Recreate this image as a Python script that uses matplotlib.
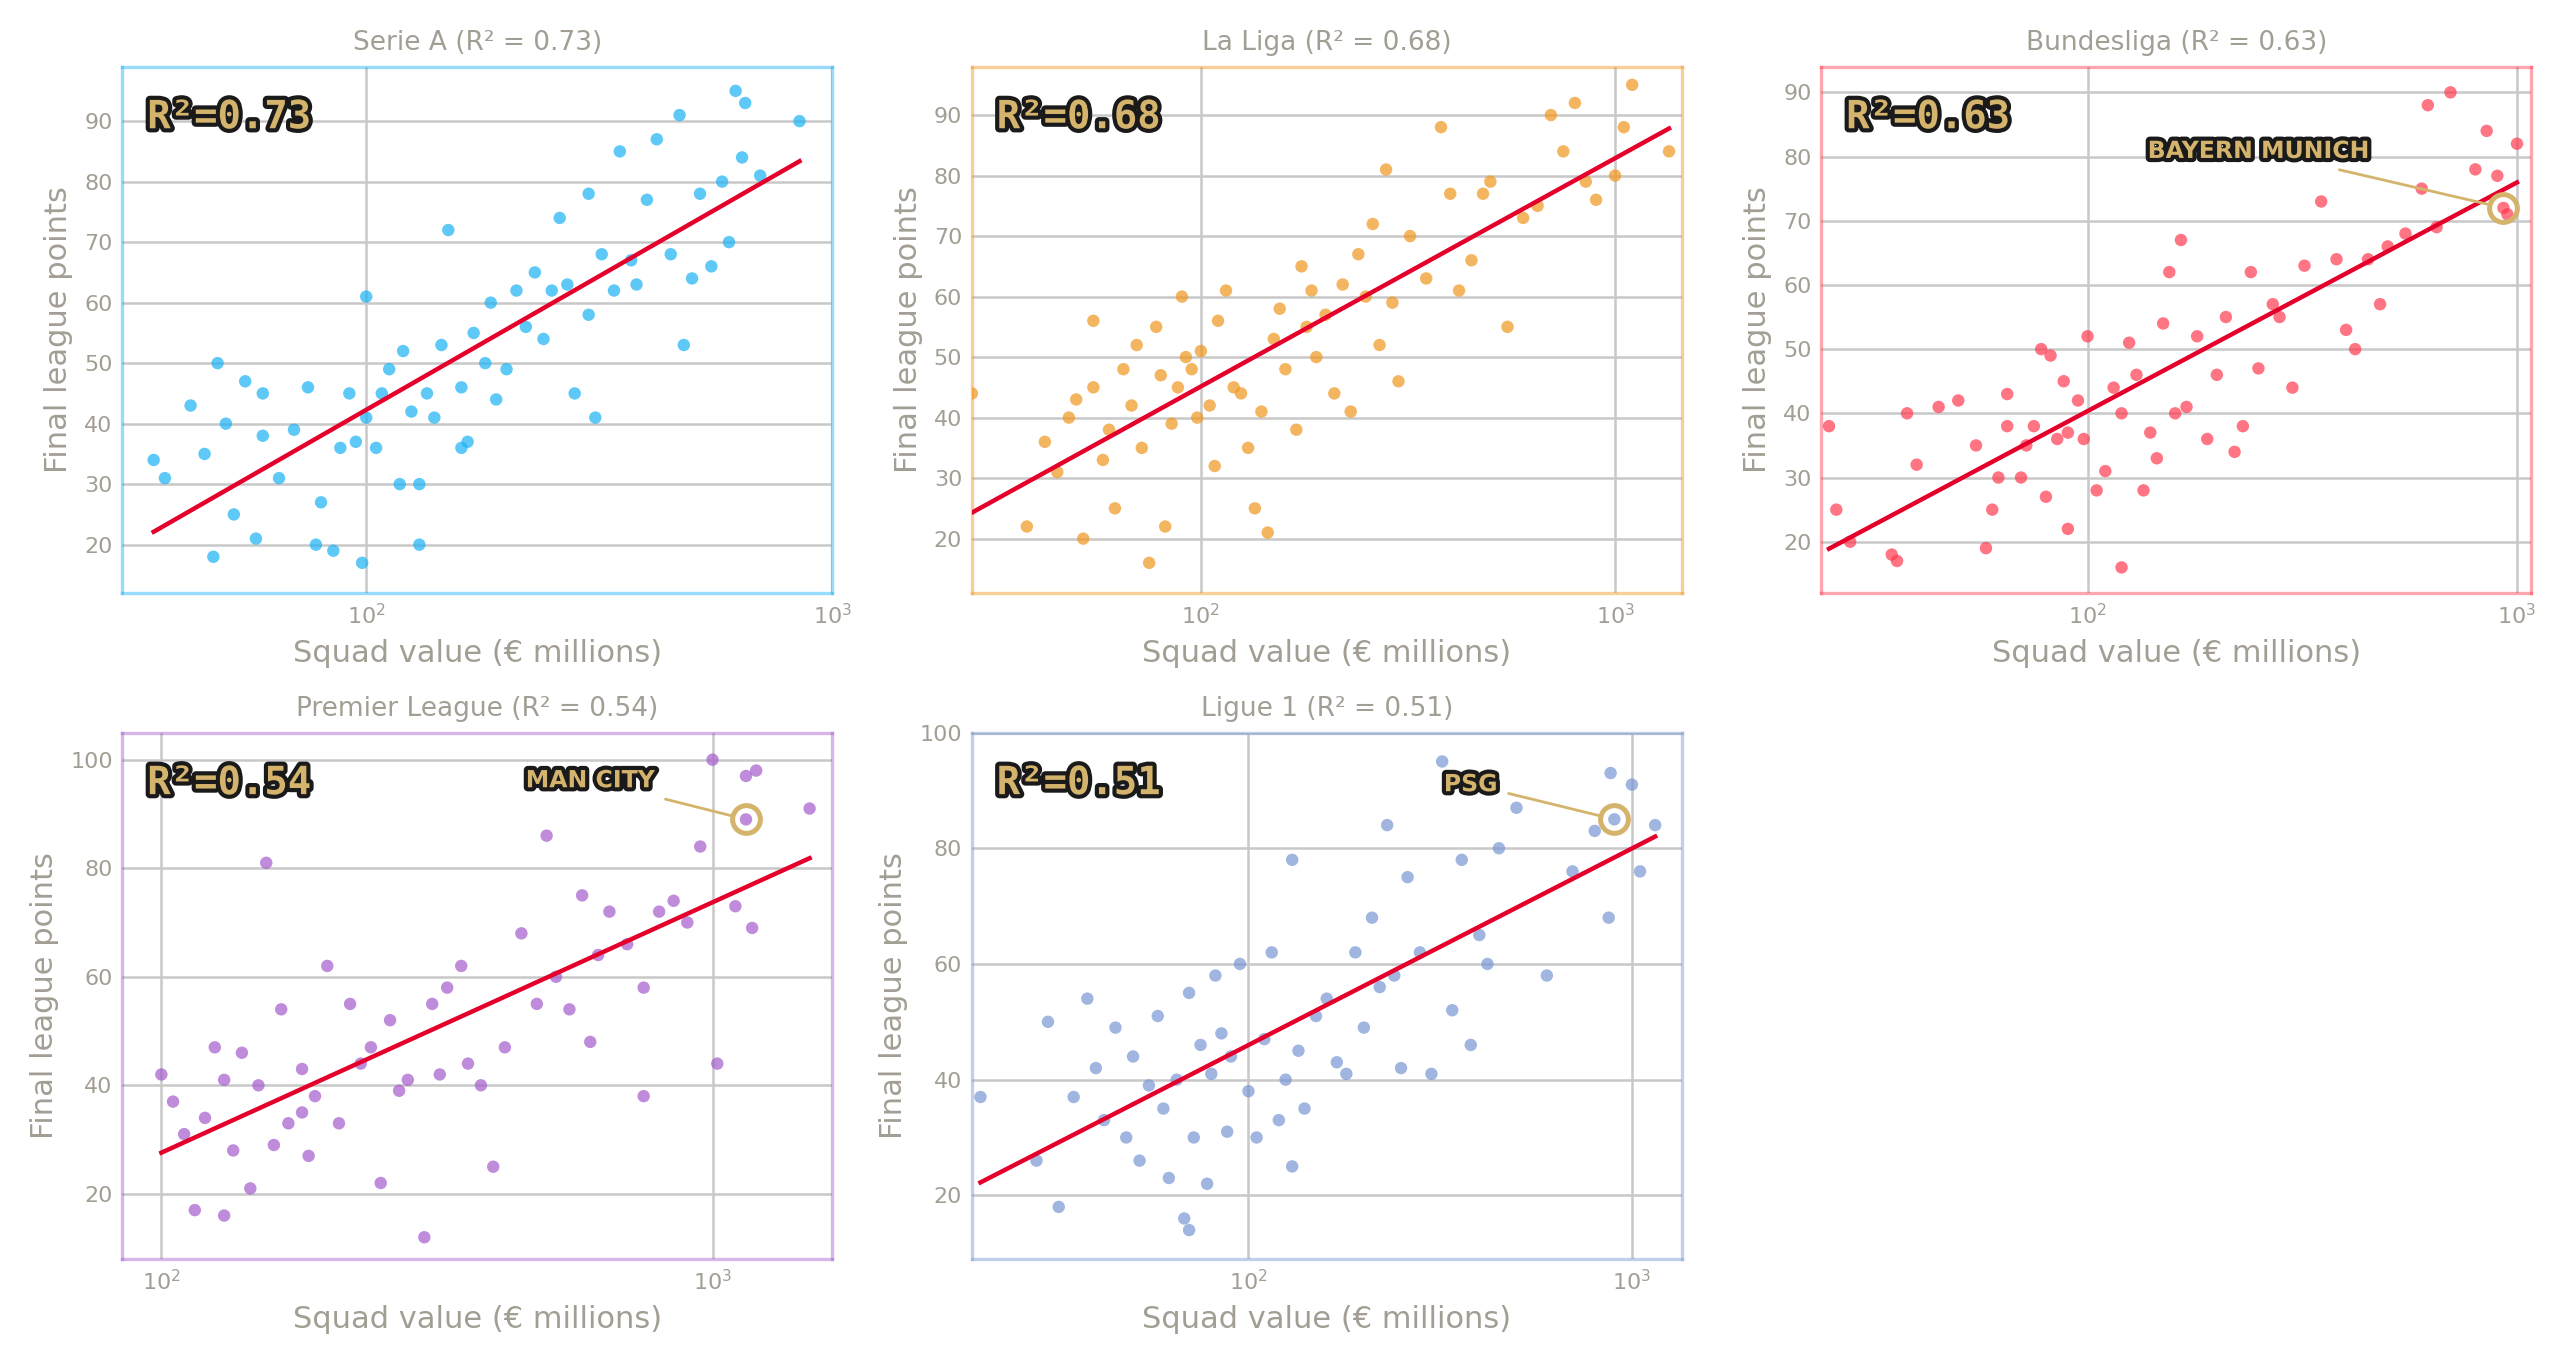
import numpy as np
import matplotlib
matplotlib.use('Agg')
import matplotlib.pyplot as plt
import matplotlib.patheffects as pe

# (squad value in € millions, final league points)
SERIE_A = [(35,34),(37,31),(42,43),(45,35),(47,18),(48,50),(50,40),(52,25),(55,47),(58,21),(60,38),(65,31),
           (70,39),(75,46),(78,20),(80,27),(85,19),(88,36),(92,45),(95,37),(98,17),(100,41),(100,61),(105,36),
           (108,45),(112,49),(118,30),(120,52),(125,42),(130,30),(135,45),(140,41),(145,53),(150,72),(160,46),
           (165,37),(170,55),(180,50),(185,60),(190,44),(200,49),(210,62),(220,56),(230,65),(240,54),(250,62),
           (260,74),(270,63),(280,45),(300,78),(310,41),(320,68),(340,62),(350,85),(370,67),(380,63),(400,77),
           (420,87),(450,68),(470,91),(500,64),(520,78),(550,66),(580,80),(600,70),(620,95),(640,84),(650,93),
           (700,81),(850,90),(480,53),(300,58),(130,20),(160,36),(60,45)]
LA_LIGA = [(28,44),(38,22),(42,36),(45,31),(48,40),(50,43),(52,20),(55,56),(55,45),(58,33),(60,38),(62,25),
           (65,48),(68,42),(70,52),(72,35),(75,16),(78,55),(80,47),(82,22),(85,39),(88,45),(90,60),(92,50),
           (95,48),(98,40),(100,51),(105,42),(108,32),(110,56),(115,61),(120,45),(125,44),(130,35),(135,25),
           (140,41),(145,21),(150,53),(155,58),(160,48),(170,38),(175,65),(180,55),(185,61),(190,50),(200,57),
           (210,44),(220,62),(230,41),(240,67),(250,60),(260,72),(270,52),(280,81),(290,59),(300,46),(320,70),
           (350,63),(380,88),(400,77),(420,61),(450,66),(480,77),(500,79),(550,55),(600,73),(650,75),(700,90),
           (750,84),(800,92),(850,79),(900,76),(1000,80),(1100,95),(1350,84),(1050,88)]
BUNDESLIGA = [(25,38),(26,25),(28,20),(35,18),(36,17),(38,40),(40,32),(45,41),(50,42),(55,35),(58,19),(60,25),
              (62,30),(65,38),(65,43),(70,30),(72,35),(75,38),(78,50),(80,27),(82,49),(85,36),(88,45),(90,22),
              (90,37),(95,42),(98,36),(100,52),(105,28),(110,31),(115,44),(120,16),(120,40),(125,51),(130,46),
              (135,28),(140,37),(145,33),(150,54),(155,62),(160,40),(165,67),(170,41),(180,52),(190,36),(200,46),
              (210,55),(220,34),(230,38),(240,62),(250,47),(270,57),(280,55),(300,44),(320,63),(350,73),(380,64),
              (400,53),(420,50),(450,64),(480,57),(500,66),(550,68),(600,75),(620,88),(650,69),(700,90),(800,78),
              (850,84),(900,77),(1000,82),(950,71),(930,72)]
PREMIER_LEAGUE = [(100,42),(105,37),(110,31),(115,17),(120,34),(125,47),(130,41),(135,28),(140,46),(145,21),
                  (150,40),(155,81),(160,29),(165,54),(170,33),(180,43),(185,27),(190,38),(200,62),(210,33),
                  (220,55),(230,44),(240,47),(250,22),(260,52),(270,39),(280,41),(300,12),(310,55),(320,42),
                  (330,58),(350,62),(360,44),(380,40),(400,25),(420,47),(450,68),(480,55),(500,86),(520,60),
                  (550,54),(580,75),(600,48),(620,64),(650,72),(700,66),(750,38),(800,72),(850,74),(900,70),
                  (950,84),(1000,100),(1020,44),(1100,73),(1150,97),(1180,69),(1200,98),(1150,89),(1500,91),
                  (180,35),(130,16),(750,58)]
LIGUE_1 = [(20,37),(28,26),(30,50),(32,18),(35,37),(38,54),(40,42),(42,33),(45,49),(48,30),(50,44),(52,26),
           (55,39),(58,51),(60,35),(62,23),(65,40),(68,16),(70,55),(72,30),(75,46),(78,22),(80,41),(82,58),
           (85,48),(88,31),(90,44),(95,60),(100,38),(105,30),(110,47),(115,62),(120,33),(125,40),(130,78),
           (135,45),(140,35),(150,51),(160,54),(170,43),(180,41),(190,62),(200,49),(210,68),(220,56),(230,84),
           (240,58),(250,42),(260,75),(280,62),(300,41),(320,95),(340,52),(360,78),(380,46),(400,65),(420,60),
           (450,80),(500,87),(600,58),(700,76),(800,83),(880,93),(900,85),(1000,91),(1050,76),(1150,84),
           (870,68),(130,25),(70,14)]

leagues = ["Serie A", "La Liga", "Bundesliga", "Premier League", "Ligue 1"]
r2_values = [0.73, 0.68, 0.63, 0.54, 0.51]
datasets = [SERIE_A, LA_LIGA, BUNDESLIGA, PREMIER_LEAGUE, LIGUE_1]
colors = ["#1ab2f5", "#f0961e", "#ff3a4f", "#a45ccc", "#7896d2"]
# highlighted clubs: (name, x, y, label x, label y)
highlights = {2: ("BAYERN MUNICH", 930, 72, 250, 79),
              3: ("MAN CITY", 1150, 89, 600, 94),
              4: ("PSG", 900, 85, 380, 89)}
xlims = [(30, 1000), (28, 1450), (24, 1080), (85, 1650), (19, 1350)]
ylims = [(12, 99), (11, 98), (12, 94), (8, 105), (9, 100)]

GREY = "#a39e94"
GOLD = "#d4b46c"
stroke = [pe.withStroke(linewidth=3, foreground="#1a1a1a")]

fig, axes = plt.subplots(2, 3, figsize=(12.845, 6.82), dpi=200)
axes = axes.flatten()
axes[5].axis("off")

for i, ax in enumerate(axes[:5]):
    pts = np.array(datasets[i], dtype=float)
    x, y = pts[:, 0], pts[:, 1]
    ax.scatter(x, y, s=20, color=colors[i], alpha=0.7, edgecolors="none", zorder=3)
    slope, icpt = np.polyfit(np.log10(x), y, 1)
    xs = np.array([x.min(), x.max()])
    ax.plot(xs, icpt + slope * np.log10(xs), color="#e4002b", lw=1.6, zorder=4)
    ax.set_xscale("log")
    ax.set_xlim(*xlims[i])
    ax.set_ylim(*ylims[i])
    ax.grid(True, color="#c8c8c8", lw=0.9, zorder=0)
    ax.set_axisbelow(True)
    for sp in ax.spines.values():
        sp.set_color(colors[i])
        sp.set_alpha(0.45)
        sp.set_linewidth(1.2)
    ax.tick_params(colors=GREY, labelsize=8, length=0)
    ax.tick_params(axis="x", which="minor", length=0)
    ax.set_xlabel("Squad value (€ millions)", color=GREY, fontsize=11)
    ax.set_ylabel("Final league points", color=GREY, fontsize=11)
    ax.set_title(f"{leagues[i]} (R² = {r2_values[i]:.2f})", color=GREY, fontsize=9.5)
    ax.text(0.035, 0.94, f"R²={r2_values[i]:.2f}", transform=ax.transAxes, ha="left", va="top",
            fontsize=14, fontweight="bold", family="DejaVu Sans Mono", color=GOLD,
            path_effects=stroke, zorder=6)
    if i in highlights:
        name, hx, hy, lx, ly = highlights[i]
        ax.plot(hx, hy, "o", ms=10, mfc="none", mec=GOLD, mew=1.8, zorder=5)
        ax.annotate(name, xy=(hx, hy), xytext=(lx, ly), fontsize=8.5, fontweight="bold",
                    color=GOLD, path_effects=stroke, ha="center", va="bottom",
                    arrowprops=dict(arrowstyle="-", color=GOLD, lw=1, shrinkB=5), zorder=6)

axes[3].set_yticks([20, 40, 60, 80, 100])
axes[4].set_yticks([20, 40, 60, 80, 100])

plt.tight_layout(w_pad=1.5, h_pad=1.0)
plt.savefig("out.png", dpi=200)
